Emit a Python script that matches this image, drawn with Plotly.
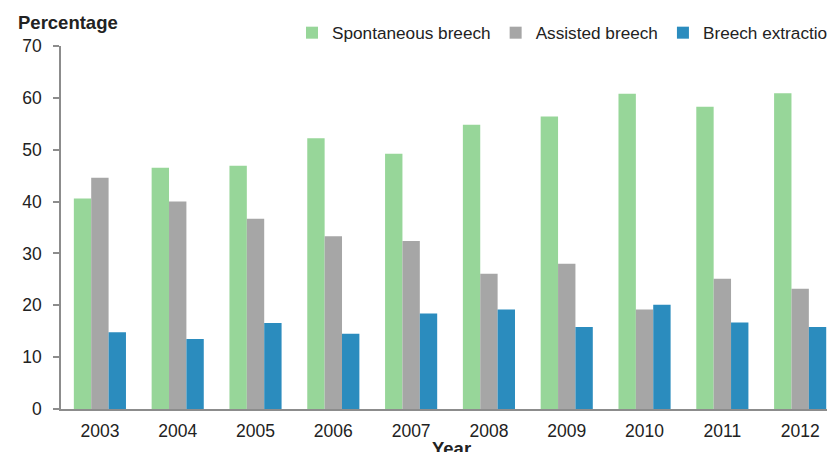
import plotly.graph_objects as go

years = ["2003", "2004", "2005", "2006", "2007", "2008", "2009", "2010", "2011", "2012"]
spontaneous = [40.6, 46.5, 46.9, 52.2, 49.2, 54.8, 56.4, 60.8, 58.3, 60.9]
assisted = [44.6, 40.0, 36.7, 33.3, 32.4, 26.1, 28.0, 19.2, 25.1, 23.2]
extraction = [14.8, 13.5, 16.6, 14.5, 18.4, 19.2, 15.8, 20.1, 16.7, 15.8]

series_names = ["Spontaneous breech", "Assisted breech", "Breech extraction"]
colors = ["#97D699", "#A6A6A6", "#2B8CBE"]

W, H = 827, 452
L, R, T, B = 61, 0, 46, 43
pw = W - L - R
ph = H - T - B

fig = go.Figure()
for name, vals, col in zip(series_names, [spontaneous, assisted, extraction], colors):
    fig.add_trace(go.Bar(x=years, y=vals, name=name, marker=dict(color=col, line=dict(width=0))))

font = "Liberation Sans, Arial, sans-serif"
fig.update_layout(
    width=W, height=H,
    margin=dict(l=L, r=R, t=T, b=B, autoexpand=False),
    paper_bgcolor="white", plot_bgcolor="white",
    barmode="group", bargap=0.33, bargroupgap=0,
    font=dict(family=font, size=17, color="#222222"),
    showlegend=True,
    legend=dict(orientation="h", x=(292 - L) / pw, xanchor="left",
                y=(409 - 33) / ph, yanchor="middle",
                font=dict(size=17.2, color="#222222"),
                bgcolor="rgba(0,0,0,0)", itemwidth=30, traceorder="normal"),
    xaxis=dict(range=[-0.5, 9.345], showline=True, linecolor="#8C8C8C", linewidth=1.5,
               ticks="", showgrid=False, zeroline=False, tickfont=dict(size=17.5),
               ticklabelstandoff=5),
    yaxis=dict(range=[0, 70], dtick=10, showline=True, linecolor="#8C8C8C", linewidth=1.5,
               ticks="outside", ticklen=6, tickcolor="#8C8C8C", tickwidth=1.5,
               showgrid=False, zeroline=False, tickfont=dict(size=17.5),
               ticklabelstandoff=8),
    annotations=[
        dict(text="<b>Percentage</b>", xref="paper", yref="paper",
             x=(16 - L) / pw, xanchor="left", y=(409 - 22) / ph, yanchor="middle",
             showarrow=False, font=dict(size=18.5, color="#222222")),
        dict(text="<b>Year</b>", xref="paper", yref="paper",
             x=(451 - L) / pw, xanchor="center", y=(409 - 448) / ph, yanchor="middle",
             showarrow=False, font=dict(size=18.5, color="#222222")),
    ],
)

fig.write_html("out.html")
